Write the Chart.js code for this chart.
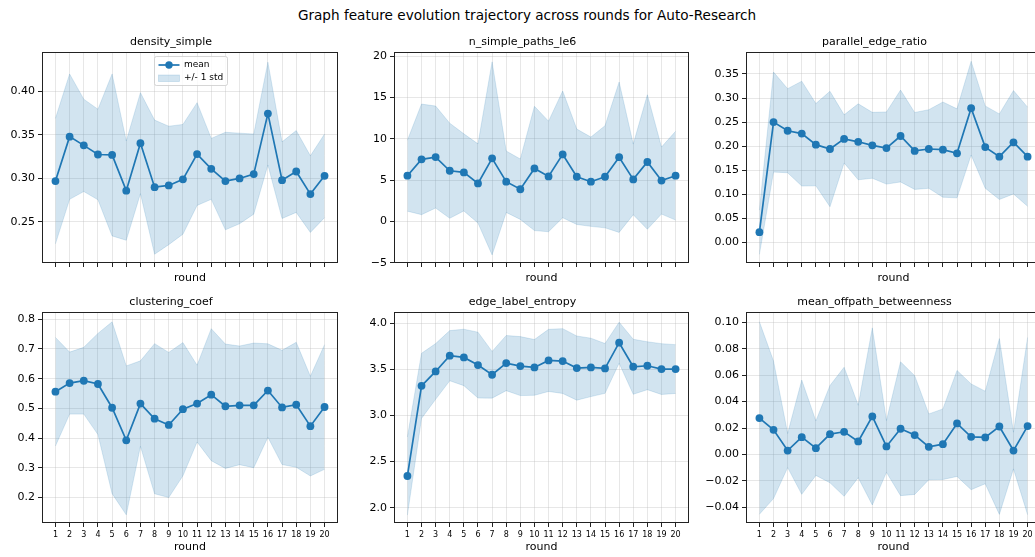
<!DOCTYPE html>
<html>
<head>
<meta charset="utf-8">
<title>Graph feature evolution trajectory</title>
<script src="https://cdn.jsdelivr.net/npm/chart.js@4.4.1/dist/chart.umd.min.js"></script>
<style>
  body {
    margin: 0;
    width: 1035px;
    height: 557px;
    overflow: hidden;
    background: #fff;
    position: relative;
    font-family: "DejaVu Sans", sans-serif;
  }
  .suptitle {
    position: absolute;
    left: 0;
    top: 7px;
    width: 1054px;
    text-align: center;
    font-size: 13.6px;
    line-height: 17px;
    color: #000;
  }
  canvas { position: absolute; }
</style>
</head>
<body>
<div class="suptitle">Graph feature evolution trajectory across rounds for Auto-Research</div>

<script>
// rounds on the x axis (shared by every panel)
const rounds = [1, 2, 3, 4, 5, 6, 7, 8, 9, 10, 11, 12, 13, 14, 15, 16, 17, 18, 19, 20];

// density_simple
const densityMean = [0.297, 0.348, 0.338, 0.3275, 0.327, 0.286, 0.3405, 0.290, 0.292, 0.299, 0.328, 0.311, 0.297, 0.300, 0.305, 0.3745, 0.298, 0.308, 0.282, 0.303];
const densityStd = [0.072, 0.072, 0.053, 0.052, 0.093, 0.057, 0.058, 0.077, 0.068, 0.063, 0.059, 0.035, 0.056, 0.052, 0.046, 0.059, 0.044, 0.047, 0.044, 0.048];
const densityTicks = [0.25, 0.30, 0.35, 0.40];

// n_simple_paths_le6
const pathsMean = [5.54, 7.52, 7.8, 6.14, 5.94, 4.6, 7.64, 4.81, 3.9, 6.42, 5.45, 8.12, 5.41, 4.81, 5.41, 7.78, 5.09, 7.2, 4.95, 5.54];
const pathsStd = [4.3, 6.7, 6.18, 5.76, 4.67, 4.8, 11.7, 3.72, 3.66, 7.53, 6.7, 7.68, 5.78, 5.41, 6.19, 9.11, 4.28, 8.15, 4.06, 5.38];
const pathsTicks = [-5, 0, 5, 10, 15, 20];

// parallel_edge_ratio
const parallelMean = [0.021, 0.250, 0.232, 0.226, 0.203, 0.194, 0.215, 0.209, 0.2017, 0.196, 0.221, 0.190, 0.194, 0.1927, 0.185, 0.279, 0.198, 0.178, 0.208, 0.178];
const parallelStd = [0.046, 0.104, 0.0874, 0.109, 0.0855, 0.12, 0.05, 0.079, 0.0685, 0.075, 0.0955, 0.08, 0.0817, 0.099, 0.0925, 0.0975, 0.0855, 0.089, 0.1075, 0.103];
const parallelTicks = [0.00, 0.05, 0.10, 0.15, 0.20, 0.25, 0.30, 0.35];

// clustering_coef
const clusteringMean = [0.556, 0.585, 0.593, 0.582, 0.502, 0.392, 0.516, 0.465, 0.444, 0.497, 0.516, 0.546, 0.507, 0.510, 0.510, 0.560, 0.503, 0.512, 0.440, 0.5045];
const clusteringStd = [0.183, 0.1045, 0.1125, 0.1705, 0.2895, 0.251, 0.144, 0.253, 0.2445, 0.2245, 0.1295, 0.2225, 0.2095, 0.2, 0.21, 0.1575, 0.1925, 0.2105, 0.168, 0.21];
const clusteringTicks = [0.2, 0.3, 0.4, 0.5, 0.6, 0.7, 0.8];

// edge_label_entropy
const entropyMean = [2.344, 3.322, 3.478, 3.649, 3.630, 3.547, 3.442, 3.569, 3.536, 3.522, 3.598, 3.591, 3.5145, 3.522, 3.511, 3.79, 3.529, 3.54, 3.504, 3.504];
const entropyStd = [0.424, 0.353, 0.3025, 0.272, 0.306, 0.357, 0.2535, 0.299, 0.32, 0.3025, 0.337, 0.3515, 0.348, 0.317, 0.27, 0.2228, 0.2985, 0.26, 0.2755, 0.2645];
const entropyTicks = [2.0, 2.5, 3.0, 3.5, 4.0];

// mean_offpath_betweenness
const betweennessMean = [0.0276, 0.0187, 0.003, 0.0131, 0.0048, 0.0154, 0.0172, 0.0099, 0.0288, 0.0061, 0.0195, 0.0147, 0.0058, 0.0078, 0.0235, 0.0134, 0.0129, 0.0212, 0.003, 0.0215];
const betweennessStd = [0.0728, 0.052, 0.0129, 0.0432, 0.0206, 0.0368, 0.0488, 0.0274, 0.067, 0.0196, 0.0506, 0.0449, 0.0249, 0.0267, 0.0401, 0.04, 0.035, 0.0665, 0.0139, 0.067];
const betweennessTicks = [-0.04, -0.02, 0.00, 0.02, 0.04, 0.06, 0.08, 0.10];

// layout of the 2x3 grid (plot-area boxes, in page pixels)
const colLeft = [42, 394, 746];
const colWidth = [298, 297, 297];
const rowTop = [52, 312];
const PLOT_H = 211;
const Y_W = 40;      // room for the y tick labels
const TITLE_H = 22;  // room for the panel title
const X_H = [24, 33]; // x axis height: top row (no labels), bottom row

const BLUE = '#1f77b4';
const BAND = 'rgba(31, 119, 180, 0.2)';
const GRID = 'rgba(176, 176, 176, 0.3)';
const SPINE = '#222';

Chart.defaults.font.family = "'DejaVu Sans', sans-serif";
Chart.defaults.color = '#000';

const panels = [
    { title: 'density_simple', mean: densityMean, std: densityStd, ticks: densityTicks, decimals: 2, range: [0.2029, 0.4452], legend: true },
    { title: 'n_simple_paths_le6', mean: pathsMean, std: pathsStd, ticks: pathsTicks, decimals: 0, range: [-5.04, 20.53] },
    { title: 'parallel_edge_ratio', mean: parallelMean, std: parallelStd, ticks: parallelTicks, decimals: 2, range: [-0.043, 0.3957] },
    { title: 'clustering_coef', mean: clusteringMean, std: clusteringStd, ticks: clusteringTicks, decimals: 1, range: [0.1135, 0.8247] },
    { title: 'edge_label_entropy', mean: entropyMean, std: entropyStd, ticks: entropyTicks, decimals: 1, range: [1.834, 4.123] },
    { title: 'mean_offpath_betweenness', mean: betweennessMean, std: betweennessStd, ticks: betweennessTicks, decimals: 2, range: [-0.0518, 0.1078] },
];

// matplotlib-style tick text (unicode minus)
function fmt(v, decimals) {
    const s = Math.abs(v).toFixed(decimals);
    return (v < -1e-9 ? '\u2212' : '') + s;
}

// draws the four spines around the plot area
const framePlugin = {
    id: 'frame',
    afterDatasetsDraw(chart) {
        const { ctx, chartArea: a } = chart;
        ctx.save();
        ctx.strokeStyle = SPINE;
        ctx.lineWidth = 1;
        ctx.strokeRect(Math.round(a.left) + 0.5, Math.round(a.top) + 0.5,
            Math.round(a.right - a.left) - 1, Math.round(a.bottom - a.top) - 1);
        ctx.restore();
    }
};

// small legend box, upper center of the first panel
const legendPlugin = {
    id: 'stdLegend',
    afterDraw(chart, args, opts) {
        if (!opts.show) return;
        const { ctx, chartArea: a } = chart;
        const w = 73, h = 29;
        const x = Math.round((a.left + a.right) / 2 - w / 2) + 0.5;
        const y = Math.round(a.top + 4) + 0.5;
        ctx.save();
        ctx.beginPath();
        ctx.roundRect(x, y, w, h, 2);
        ctx.fillStyle = 'rgba(255,255,255,0.8)';
        ctx.fill();
        ctx.strokeStyle = 'rgba(204,204,204,0.8)';
        ctx.lineWidth = 1;
        ctx.stroke();

        // mean: line + marker
        ctx.strokeStyle = BLUE;
        ctx.lineWidth = 1.7;
        ctx.beginPath();
        ctx.moveTo(x + 4, y + 8.5);
        ctx.lineTo(x + 25, y + 8.5);
        ctx.stroke();
        ctx.fillStyle = BLUE;
        ctx.beginPath();
        ctx.arc(x + 14.5, y + 8.5, 3.7, 0, Math.PI * 2);
        ctx.fill();

        // +/- 1 std: patch
        ctx.fillStyle = BAND;
        ctx.fillRect(x + 4, y + 18.5, 21, 6.5);
        ctx.strokeStyle = BAND;
        ctx.lineWidth = 0.8;
        ctx.strokeRect(x + 4, y + 18.5, 21, 6.5);

        ctx.fillStyle = '#000';
        ctx.font = "9px 'DejaVu Sans', sans-serif";
        ctx.textBaseline = 'middle';
        ctx.fillText('mean', x + 29.5, y + 8.5);
        ctx.fillText('+/- 1 std', x + 29.5, y + 21.5);
        ctx.restore();
    }
};

panels.forEach((p, i) => {
    const col = i % 3;
    const row = Math.floor(i / 3);
    const xh = X_H[row];

    const canvas = document.createElement('canvas');
    canvas.width = Y_W + colWidth[col] + 2;
    canvas.height = TITLE_H + PLOT_H + xh;
    canvas.style.left = (colLeft[col] - Y_W) + 'px';
    canvas.style.top = (rowTop[row] - TITLE_H) + 'px';
    document.body.appendChild(canvas);

    // mean +/- std band edges
    const upper = p.mean.map((m, k) => ({ x: rounds[k], y: m + p.std[k] }));
    const lower = p.mean.map((m, k) => ({ x: rounds[k], y: m - p.std[k] }));
    const mean = p.mean.map((m, k) => ({ x: rounds[k], y: m }));

    new Chart(canvas.getContext('2d'), {
        type: 'line',
        data: {
            datasets: [
                {
                    label: 'mean',
                    data: mean,
                    borderColor: BLUE,
                    backgroundColor: BLUE,
                    borderWidth: 1.7,
                    pointRadius: 3.9,
                    pointBorderWidth: 0,
                    pointBackgroundColor: BLUE,
                    tension: 0,
                    fill: false
                },
                {
                    label: '+/- 1 std',
                    data: upper,
                    borderColor: BAND,
                    borderWidth: 0.8,
                    backgroundColor: BAND,
                    pointRadius: 0,
                    tension: 0,
                    fill: '+1'
                },
                {
                    label: 'lower',
                    data: lower,
                    borderColor: BAND,
                    borderWidth: 0.8,
                    pointRadius: 0,
                    tension: 0,
                    fill: false
                }
            ]
        },
        options: {
            responsive: false,
            animation: false,
            events: [],
            layout: { padding: { left: 0, top: 0, right: 2, bottom: 0 } },
            plugins: {
                legend: { display: false },
                tooltip: { enabled: false },
                title: {
                    display: true,
                    text: p.title,
                    color: '#000',
                    font: { size: 11, weight: 'normal' },
                    padding: { top: 5.4, bottom: 3.4 }
                },
                stdLegend: { show: !!p.legend }
            },
            scales: {
                x: {
                    type: 'linear',
                    min: 0.05,
                    max: 20.95,
                    afterFit: s => { s.height = xh; },
                    afterBuildTicks: s => { s.ticks = rounds.map(v => ({ value: v })); },
                    ticks: {
                        display: row === 1,
                        autoSkip: false,
                        maxRotation: 0,
                        padding: 3,
                        color: '#000',
                        font: { size: 8 },
                        callback: v => String(v)
                    },
                    grid: { color: GRID, tickColor: SPINE, tickLength: 4, tickWidth: 1 },
                    border: { display: false },
                    title: {
                        display: true,
                        text: 'round',
                        color: '#000',
                        font: { size: 11 },
                        padding: { top: 0, bottom: 2 }
                    }
                },
                y: {
                    type: 'linear',
                    min: p.range[0],
                    max: p.range[1],
                    afterFit: s => { s.width = Y_W; },
                    afterBuildTicks: s => { s.ticks = p.ticks.map(v => ({ value: v })); },
                    ticks: {
                        autoSkip: false,
                        padding: 3,
                        color: '#000',
                        font: { size: 11 },
                        callback: v => fmt(v, p.decimals)
                    },
                    grid: { color: GRID, tickColor: SPINE, tickLength: 4, tickWidth: 1 },
                    border: { display: false }
                }
            }
        },
        plugins: [framePlugin, legendPlugin]
    });
});
</script>
</body>
</html>
